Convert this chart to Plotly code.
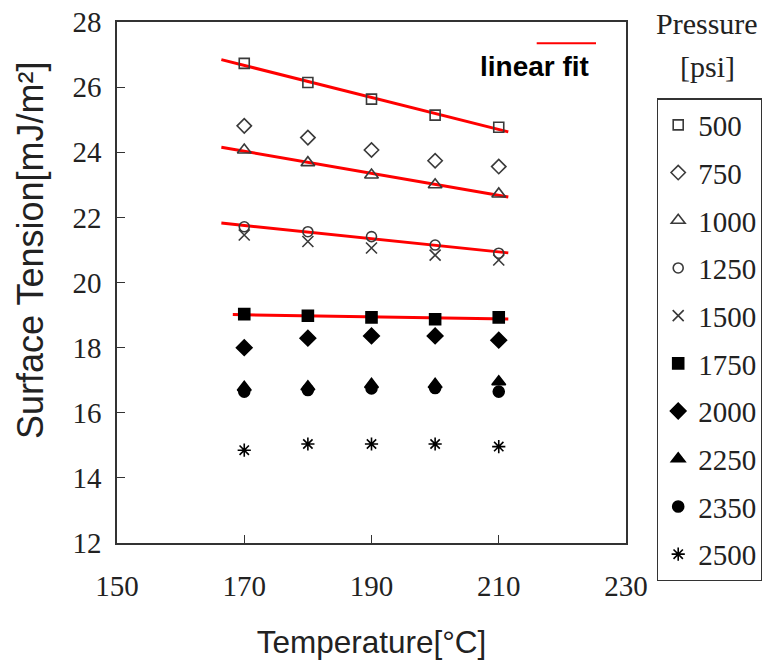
import numpy as np
import plotly.graph_objects as go

# Temperatures [°C] and surface tension [mJ/m²] per pressure level [psi]
temperature = [170, 180, 190, 200, 210]

st_500 = [26.73, 26.14, 25.63, 25.14, 24.77]
st_750 = [24.81, 24.45, 24.07, 23.74, 23.56]
st_1000 = [24.07, 23.68, 23.30, 23.00, 22.72]
st_1250 = [21.71, 21.56, 21.41, 21.15, 20.90]
st_1500 = [21.46, 21.26, 21.06, 20.84, 20.69]
st_1750 = [19.03, 18.98, 18.93, 18.87, 18.93]
st_2000 = [18.00, 18.29, 18.36, 18.36, 18.23]
st_2250 = [16.78, 16.80, 16.87, 16.87, 16.95]
st_2350 = [16.65, 16.70, 16.75, 16.76, 16.65]
st_2500 = [14.85, 15.04, 15.04, 15.04, 14.96]

pressures = ["500", "750", "1000", "1250", "1500", "1750", "2000", "2250", "2350", "2500"]
series = [st_500, st_750, st_1000, st_1250, st_1500,
          st_1750, st_2000, st_2250, st_2350, st_2500]

# Series that get a least-squares line, and the temperature span of each line
fit_series = ["500", "1000", "1250", "1750"]
fit_start = [166.4, 166.4, 166.4, 168.2]
fit_end = [211.5, 211.5, 211.5, 211.5]

x_ticks = [150, 170, 190, 210, 230]
y_ticks = [12, 14, 16, 18, 20, 22, 24, 26, 28]

open_grey = "#3a3a3a"
styles = {
    "500": dict(symbol="square-open", size=10, color=open_grey),
    "750": dict(symbol="diamond-open", size=11, color=open_grey),
    "1000": dict(symbol="triangle-up-open", size=12, color=open_grey),
    "1250": dict(symbol="circle-open", size=10, color=open_grey),
    "1500": dict(symbol="x-thin-open", size=11, color=open_grey),
    "1750": dict(symbol="square", size=11, color="black"),
    "2000": dict(symbol="diamond", size=12, color="black"),
    "2250": dict(symbol="triangle-up", size=12, color="black"),
    "2350": dict(symbol="circle", size=11, color="black"),
    "2500": dict(symbol="asterisk-open", size=11, color="black"),
}

fig = go.Figure()

# red linear fits (drawn underneath the markers)
for name, x0, x1 in zip(fit_series, fit_start, fit_end):
    y = series[pressures.index(name)]
    slope, intercept = np.polyfit(temperature, y, 1)
    xs = [x0, x1]
    fig.add_trace(go.Scatter(
        x=xs, y=[slope * v + intercept for v in xs], mode="lines",
        line=dict(color="#ff0000", width=3), showlegend=False, hoverinfo="skip"))

for name, y in zip(pressures, series):
    st = styles[name]
    fig.add_trace(go.Scatter(
        x=temperature, y=y, mode="markers", name=name, legendgroup=name,
        marker=dict(symbol=st["symbol"], size=st["size"], color=st["color"],
                    line=dict(color=st["color"], width=1.6))))

serif = "Liberation Serif, Times New Roman, serif"
sans = "Liberation Sans, Arial, sans-serif"

axis_common = dict(
    showgrid=False, zeroline=False, showline=True, linecolor="#333333",
    linewidth=1.5, mirror=True, ticks="inside", ticklen=8, tickwidth=1.2,
    tickcolor="#333333", tickfont=dict(family=serif, size=29, color="#222222"),
)

fig.update_xaxes(
    range=[150, 230], tickvals=x_ticks, ticktext=[str(v) for v in x_ticks],
    ticklabelstandoff=16,
    title=dict(text="Temperature[°C]", font=dict(family=sans, size=31.5, color="#222222"),
               standoff=30),
    **axis_common)
fig.update_yaxes(
    range=[12, 28], tickvals=y_ticks, ticktext=[str(v) for v in y_ticks],
    ticklabelstandoff=8,
    **axis_common)

# vertical y-axis title, sitting a little above the middle of the axis
fig.add_annotation(text="Surface Tension[mJ/m²]", xref="paper", yref="paper",
                   x=(30 - 117) / 509, y=(543 - 251) / 521, showarrow=False,
                   textangle=-90, xanchor="center", yanchor="middle",
                   font=dict(family=sans, size=36, color="#222222"))

# legend for the fitted lines
fig.add_shape(type="line", xref="paper", yref="paper",
              x0=(536.7 - 117) / 509, x1=(596 - 117) / 509,
              y0=(543 - 43.3) / 521, y1=(543 - 43.3) / 521,
              line=dict(color="#ff0000", width=2))
fig.add_annotation(text="<b>linear fit</b>", xref="paper", yref="paper",
                   x=(534 - 117) / 509, y=(543 - 67) / 521, showarrow=False,
                   xanchor="center", yanchor="middle",
                   font=dict(family=sans, size=28, color="black"))

# title above the pressure legend
for line_text, y_px in [("Pressure", 23), ("[psi]", 67)]:
    fig.add_annotation(text=line_text, xref="paper", yref="paper",
                       x=(707 - 117) / 509, y=(543 - y_px) / 521, showarrow=False,
                       xanchor="center", yanchor="middle",
                       font=dict(family=serif, size=30, color="#222222"))

fig.update_layout(
    width=762, height=666,
    margin=dict(l=117, r=136, t=22, b=123, autoexpand=False),
    paper_bgcolor="white", plot_bgcolor="white",
    showlegend=True,
    legend=dict(
        x=(656.7 - 117) / 509, y=(543 - 98) / 521, xanchor="left", yanchor="top",
        traceorder="grouped", tracegroupgap=7,
        bordercolor="#333333", borderwidth=1.5, bgcolor="white",
        font=dict(family=serif, size=29, color="#222222"),
        itemsizing="trace",
    ),
)

fig.write_html("out.html")
